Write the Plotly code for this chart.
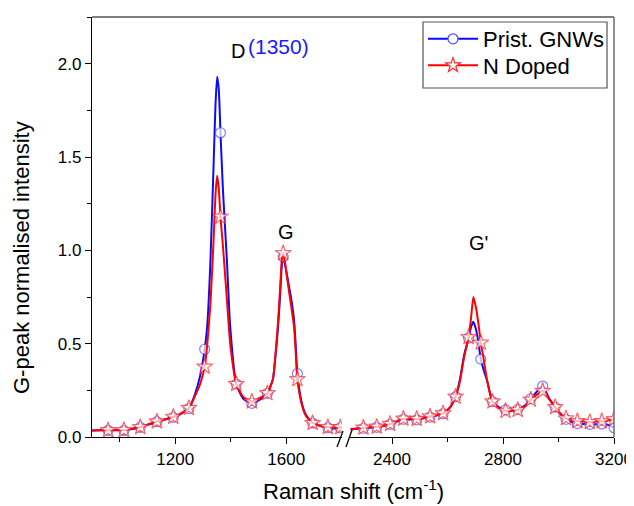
import plotly.graph_objects as go

# ---------------- data ----------------
left_x = [900, 930, 958, 985, 1015, 1045, 1074, 1104, 1134, 1163, 1193, 1222, 1249, 1270, 1290,
          1306, 1315, 1327, 1338, 1345, 1351, 1357, 1363, 1372, 1386, 1398, 1420, 1445, 1476,
          1505, 1532, 1552, 1561, 1570, 1578, 1584, 1589, 1595, 1606, 1618, 1628, 1633, 1640,
          1655, 1670, 1695, 1720, 1750, 1775, 1795, 1800]
blue_left = [0.035, 0.036, 0.036, 0.036, 0.035, 0.043, 0.052, 0.067, 0.082, 0.093, 0.105, 0.125,
             0.152, 0.225, 0.33, 0.47, 0.59, 0.95, 1.45, 1.78, 1.93, 1.86, 1.63, 1.32, 0.95, 0.59,
             0.284, 0.205, 0.18, 0.20, 0.234, 0.31, 0.43, 0.58, 0.76, 0.92, 0.965, 0.93, 0.84,
             0.74, 0.63, 0.52, 0.34, 0.19, 0.12, 0.075, 0.06, 0.05, 0.045, 0.05, 0.05]
red_left = [0.035, 0.036, 0.036, 0.037, 0.037, 0.045, 0.053, 0.068, 0.083, 0.095, 0.108, 0.128,
            0.155, 0.215, 0.285, 0.377, 0.49, 0.72, 1.05, 1.30, 1.40, 1.33, 1.18, 1.02, 0.74, 0.50,
            0.284, 0.215, 0.19, 0.21, 0.234, 0.31, 0.44, 0.61, 0.80, 0.95, 0.985, 0.94, 0.82,
            0.70, 0.59, 0.48, 0.31, 0.18, 0.115, 0.075, 0.062, 0.053, 0.05, 0.052, 0.052]

right_x = [2250, 2275, 2297, 2320, 2345, 2370, 2393, 2417, 2441, 2465, 2489, 2513, 2537, 2560,
           2584, 2610, 2629, 2645, 2660, 2676, 2685, 2693, 2703, 2712, 2720, 2730, 2743, 2762,
           2785, 2809, 2833, 2853, 2880, 2900, 2920, 2943, 2965, 2988, 3008, 3027, 3048, 3068,
           3090, 3113, 3135, 3156, 3178, 3200]
blue_right = [0.043, 0.045, 0.047, 0.05, 0.052, 0.06, 0.068, 0.082, 0.095, 0.094, 0.092, 0.10,
              0.107, 0.115, 0.125, 0.16, 0.216, 0.31, 0.44, 0.53, 0.59, 0.618, 0.574, 0.50, 0.417,
              0.36, 0.30, 0.19, 0.16, 0.145, 0.14, 0.148, 0.17, 0.205, 0.24, 0.273, 0.21, 0.16,
              0.12, 0.095, 0.08, 0.072, 0.07, 0.068, 0.068, 0.07, 0.065, 0.05]
red_right = [0.04, 0.046, 0.05, 0.053, 0.055, 0.062, 0.07, 0.085, 0.098, 0.098, 0.097, 0.104,
             0.11, 0.118, 0.127, 0.16, 0.216, 0.30, 0.43, 0.535, 0.64, 0.75, 0.69, 0.60, 0.505,
             0.42, 0.30, 0.19, 0.155, 0.14, 0.14, 0.145, 0.165, 0.20, 0.225, 0.247, 0.205, 0.16,
             0.125, 0.10, 0.09, 0.085, 0.083, 0.08, 0.083, 0.085, 0.088, 0.095]

left_markers = [958, 1015, 1074, 1134, 1193, 1249, 1306, 1363, 1420, 1476, 1532, 1589, 1640,
                1695, 1750, 1795]
right_markers = [2297, 2345, 2393, 2441, 2489, 2537, 2584, 2629, 2676, 2720, 2762, 2809, 2853,
                 2900, 2943, 2988, 3027, 3068, 3113, 3156, 3200]

series_names = ["Prist. GNWs", "N Doped"]
left_ticks, left_minor = [1200, 1600], [1000, 1400]
right_ticks, right_minor = [2400, 2800, 3200], [2600, 3000]

# ---------------- styles ----------------
BLUE, BLUE_MK = "#0a0aff", "#4d4dff"
RED, RED_MK = "#ff0000", "#ff2a2a"
FONT = "Liberation Sans, Arial, sans-serif"

def sizes(xs, marks, s):
    return [s if x in marks else 0 for x in xs]

fig = go.Figure()

def add_series(x, y, marks, color, mcolor, symbol, msize, xaxis):
    fig.add_trace(go.Scatter(
        x=x, y=y, xaxis=xaxis, yaxis="y", mode="lines+markers", showlegend=False,
        line=dict(color=color, width=2, shape="spline", smoothing=0.5),
        marker=dict(symbol=symbol, size=sizes(x, marks, msize), color="white",
                    line=dict(color=mcolor, width=[1.2 if v in marks else 0 for v in x])),
        cliponaxis=True,
    ))

add_series(left_x, blue_left, left_markers, BLUE, BLUE_MK, "circle", 10, "x")
add_series(right_x, blue_right, right_markers, BLUE, BLUE_MK, "circle", 10, "x2")
add_series(left_x, red_left, left_markers, RED, RED_MK, "star", 12, "x")
add_series(right_x, red_right, right_markers, RED, RED_MK, "star", 12, "x2")

# legend entries (one legend per row for exact spacing)
fig.add_trace(go.Scatter(x=[None], y=[None], mode="lines+markers", name=series_names[0],
                         legend="legend",
                         line=dict(color=BLUE, width=2),
                         marker=dict(symbol="circle", size=10, color="white",
                                     line=dict(color=BLUE_MK, width=1.2))))
fig.add_trace(go.Scatter(x=[None], y=[None], mode="lines+markers", name=series_names[1],
                         legend="legend2",
                         line=dict(color=RED, width=2),
                         marker=dict(symbol="star", size=11, color="white",
                                     line=dict(color=RED_MK, width=1.2))))

# plot-area geometry, in screenshot pixels (the page adds an 8px body margin)
OFF = 8
L, R, T, B = 92, 614, 17, 437
W, H = R - L, B - T
def px(x): return (x - L) / W
def py(y): return (B - y) / H

axis_common = dict(showline=True, linecolor="black", linewidth=1.3, ticks="outside",
                   ticklen=6, tickwidth=1.3, tickcolor="black", showgrid=False, zeroline=False,
                   tickfont=dict(family=FONT, size=17, color="black"), mirror=False)

leg_common = dict(xanchor="left", yanchor="middle", bgcolor="rgba(0,0,0,0)", borderwidth=0,
                  font=dict(family=FONT, size=22, color="black"), itemwidth=50)

fig.update_layout(
    width=634, height=506,
    margin=dict(l=L - OFF, r=634 - (R - OFF), t=T - OFF, b=506 - (B - OFF)),
    paper_bgcolor="white", plot_bgcolor="white",
    font=dict(family=FONT, color="black"),
    xaxis=dict(domain=[0, px(341.75)], range=[900, 1800], anchor="y",
               tickmode="array", tickvals=left_ticks,
               minor=dict(tickmode="array", tickvals=left_minor, ticks="outside", ticklen=4,
                          tickwidth=1.3, tickcolor="black"),
               **axis_common),
    xaxis2=dict(domain=[px(350.4), 1], range=[2250, 3200], anchor="y",
                tickmode="array", tickvals=right_ticks,
                minor=dict(tickmode="array", tickvals=right_minor, ticks="outside", ticklen=4,
                           tickwidth=1.3, tickcolor="black"),
                **axis_common),
    yaxis=dict(range=[0, 2.25], anchor="x", dtick=0.5, tick0=0, tickformat=".1f",
               minor=dict(dtick=0.25, ticks="outside", ticklen=4, tickwidth=1.3,
                          tickcolor="black"),
               **axis_common),
    legend=dict(x=px(423), y=py(39), **leg_common),
    legend2=dict(x=px(423), y=py(65.5), **leg_common),
)

# frame (top & right), legend box and axis-break marks
shapes = [
    dict(type="line", xref="paper", yref="paper", x0=0, x1=1, y0=1, y1=1,
         line=dict(color="#555555", width=1.3)),
    dict(type="line", xref="paper", yref="paper", x0=1, x1=1, y0=0, y1=1,
         line=dict(color="#555555", width=1.3)),
    dict(type="rect", xref="paper", yref="paper", x0=px(423), x1=px(607), y0=py(88), y1=py(22),
         line=dict(color="#555555", width=1.2), fillcolor="white", layer="above"),
    dict(type="line", xref="paper", yref="paper", x0=px(337), x1=px(343), y0=py(447), y1=py(431),
         line=dict(color="black", width=1.3)),
    dict(type="line", xref="paper", yref="paper", x0=px(346), x1=px(352), y0=py(447), y1=py(430),
         line=dict(color="black", width=1.3)),
]
fig.update_layout(shapes=shapes)

ann_font = dict(family=FONT, size=20, color="black")
fig.add_annotation(xref="x", yref="y", x=1427, y=2.07, text="D", showarrow=False, font=ann_font)
fig.add_annotation(xref="x", yref="y", x=1573, y=2.09, text="(1350)", showarrow=False,
                   font=dict(family=FONT, size=21, color="#1a1aff"))
fig.add_annotation(xref="x", yref="y", x=1600, y=1.10, text="G", showarrow=False, font=ann_font)
fig.add_annotation(xref="x2", yref="y", x=2710, y=1.04, text="G'", showarrow=False, font=ann_font)

# axis titles
fig.add_annotation(xref="paper", yref="paper", x=px(353), y=py(490), xanchor="center",
                   yanchor="middle", text="Raman shift (cm<sup>-1</sup>)", showarrow=False,
                   font=dict(family=FONT, size=22, color="black"))
fig.add_annotation(xref="paper", yref="paper", x=px(22), y=py(258), xanchor="center",
                   yanchor="middle", textangle=-90,
                   text="G-peak normalised intensity", showarrow=False,
                   font=dict(family=FONT, size=22, color="black"))

fig.write_html("out.html")
